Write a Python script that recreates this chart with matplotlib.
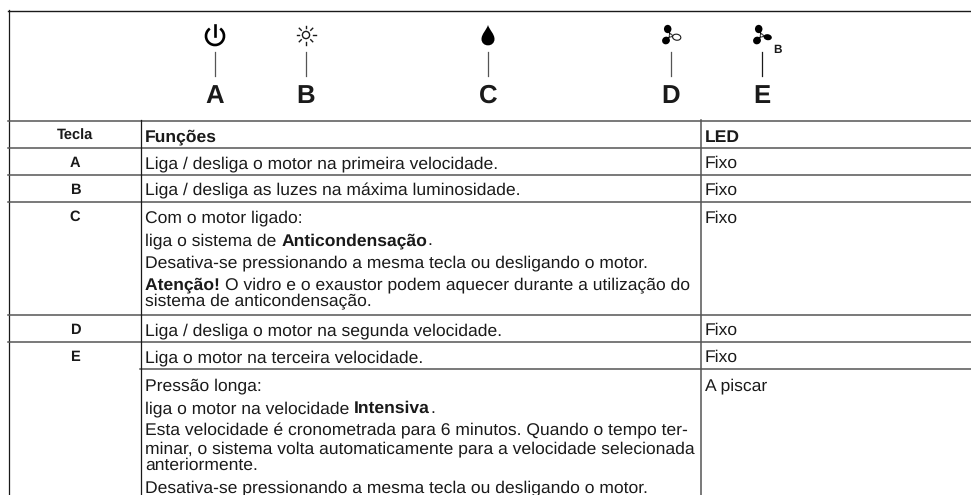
import numpy as np
import matplotlib
matplotlib.use('Agg')
import matplotlib.pyplot as plt
from matplotlib.patches import Circle, Ellipse, PathPatch, Arc
from matplotlib.path import Path

W, H = 971, 495

plt.rcParams['font.family'] = ['Liberation Sans', 'DejaVu Sans']
plt.rcParams['text.hinting'] = 'no_hinting'
plt.rcParams['text.hinting_factor'] = 8

# table text
key_letters = ['A', 'B', 'C', 'D', 'E']
key_x = [215, 306, 488, 671, 762]
key_rows = ['A', 'B', 'C', 'D', 'E']
key_row_y = [163, 190, 217, 330, 357]
led_labels = ['Fixo', 'Fixo', 'Fixo', 'Fixo', 'Fixo', 'A piscar']
led_y = [168, 195, 222.5, 335, 362, 390]

# y of baseline, list of (text, bold)
func_lines = [
    (168, [('Liga / desliga o motor na primeira velocidade.', False)]),
    (195, [('Liga / desliga as luzes na máxima luminosidade.', False)]),
    (222.5, [('Com o motor ligado:', False)]),
    (245, [('liga o sistema de ', False), ('Anticondensação', True), ('.', False)]),
    (267, [('Desativa-se pressionando a mesma tecla ou desligando o motor.', False)]),
    (289, [('Atenção! ', True), ('O vidro e o exaustor podem aquecer durante a utilização do', False)]),
    (305.5, [('sistema de anticondensação.', False)]),
    (335, [('Liga / desliga o motor na segunda velocidade.', False)]),
    (362, [('Liga o motor na terceira velocidade.', False)]),
    (390, [('Pressão longa:', False)]),
    (413, [('liga o motor na velocidade ', False), ('Intensiva', True), ('.', False)]),
    (435, [('Esta velocidade é cronometrada para 6 minutos. Quando o tempo ter-', False)]),
    (453, [('minar, o sistema volta automaticamente para a velocidade selecionada', False)]),
    (470, [('anteriormente.', False)]),
    (492, [('Desativa-se pressionando a mesma tecla ou desligando o motor.', False)]),
]

fig = plt.figure(figsize=(W / 100, H / 100), dpi=100)
ax = fig.add_axes([0, 0, 1, 1])
ax.set_xlim(0, W)
ax.set_ylim(H, 0)
ax.axis('off')

grey = '#555555'
dark = '#1a1a1a'
fs = 12.6

# grid lines
ax.plot([8.5, 8.5], [10, H], color=dark, lw=0.9)
ax.plot([8, W], [10.5, 10.5], color=dark, lw=1.0)
for y in [120.5, 147.5, 174.5, 201.5, 315, 342]:
    ax.plot([8, W], [y, y], color=grey, lw=1.1)
ax.plot([140, W], [368.5, 368.5], color=grey, lw=1.1)
ax.plot([140.5, 140.5], [120, H], color=dark, lw=0.9)
ax.plot([700.5, 700.5], [120, H], color=grey, lw=1.1)

# header
ax.text(75, 136, 'Tecla', fontsize=10.5, fontweight='bold', ha='center', va='center', color=dark)
ax.text(145, 141.5, 'Funções', fontsize=fs, fontweight='bold', color=dark, va='baseline')
ax.text(705, 141.5, 'LED', fontsize=fs, fontweight='bold', color=dark, va='baseline')

# first rows
for k, y in zip(key_rows, key_row_y):
    ax.text(75, y, k, fontsize=10.5, fontweight='bold', ha='center', va='center', color=dark)
for t, y in zip(led_labels, led_y):
    ax.text(705, y, t, fontsize=fs, color=dark, va='baseline', clip_on=True)

# rich function lines, pieces placed one after another
r = fig.canvas.get_renderer()
for y, parts in func_lines:
    x = 145
    for txt, bold in parts:
        t = ax.text(x, y, txt, fontsize=fs, color=dark, va='baseline',
                    fontweight='bold' if bold else 'normal', clip_on=True)
        x += t.get_window_extent(r).width

# key letters and leaders
for k, x in zip(key_letters, key_x):
    ax.text(x, 103, k, fontsize=18.5, fontweight='bold', ha='center', va='baseline', color=dark)
    ax.plot([x, x], [52, 76], color=grey if k != 'E' else dark, lw=0.9)

# power icon
ax.add_patch(Arc((215, 36), 18, 18, theta1=-55, theta2=235, color='black', lw=1.9))
ax.plot([215, 215], [25, 36], color='black', lw=1.9)

# sun icon
ax.add_patch(Circle((306, 35), 3.6, fill=False, ec=dark, lw=1.0))
for a in np.arange(0, 360, 45):
    c, s = np.cos(np.radians(a)), np.sin(np.radians(a))
    ax.plot([306 + 6.7 * c, 306 + 9.5 * c], [35 + 6.7 * s, 35 + 9.5 * s], color=dark, lw=1.0)

# drop icon
drop = Path([(488, 25), (489.5, 30), (494.5, 34), (494.5, 39), (494.5, 47.5), (481.5, 47.5), (481.5, 39), (481.5, 34), (486.5, 30), (488, 25)],
            [Path.MOVETO] + [Path.CURVE4] * 9)
ax.add_patch(PathPatch(drop, fc='black', ec='none'))


def fan(cx, cy, hollow):
    # three blades around a small hub
    blades = [(cx - 3, cy - 6.5, 7.5, 8.3, 0), (cx - 4.7, cy + 5, 8, 7.5, -35), (cx + 6, cy + 1.7, 8.3, 6, 10)]
    for i, (bx, by, w, h, ang) in enumerate(blades):
        ax.plot([cx, bx], [cy, by], color='black', lw=1.0)
        if i == 2 and hollow:
            ax.add_patch(Ellipse((bx, by), w, h, angle=ang, fc='white', ec=dark, lw=0.8, zorder=4))
        else:
            ax.add_patch(Ellipse((bx, by), w, h, angle=ang, fc='black', ec='none', zorder=4))
    ax.add_patch(Circle((cx, cy), 1.5, fc='white', ec=dark, lw=0.6, zorder=5))


fan(670.7, 35.5, True)
fan(761.7, 35.5, False)
ax.text(777, 53.3, 'B', fontsize=8.5, fontweight='bold', ha='center', va='baseline', color=dark)

fig.savefig('out.png', dpi=100, facecolor='white')
